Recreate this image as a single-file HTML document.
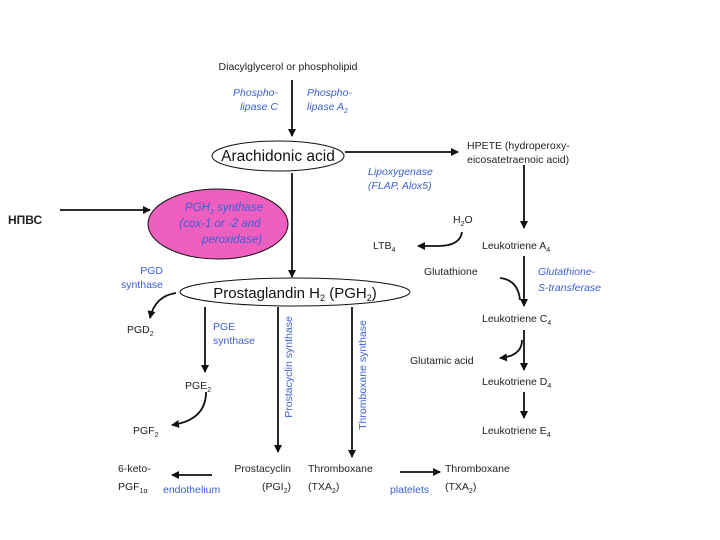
<!DOCTYPE html>
<html><head><meta charset="utf-8"><style>
html,body{margin:0;padding:0;background:#fff;}
svg{display:block;font-family:"Liberation Sans",sans-serif;}
.t{font-size:10.5px;fill:#222;}
.b{font-size:10.5px;fill:#3b5fd6;font-style:italic;}
.bn{font-size:10.5px;fill:#3b5fd6;}
</style></head><body>
<svg width="720" height="540" viewBox="0 0 720 540" xmlns="http://www.w3.org/2000/svg">
<defs><marker id="a" markerWidth="8" markerHeight="8" refX="7" refY="4" orient="auto" markerUnits="userSpaceOnUse"><path d="M0,0 L8,4 L0,8 Z" fill="#111"/></marker></defs>
<g stroke="#111" stroke-width="1.8" fill="none">
<line x1="292" y1="80" x2="292" y2="136" marker-end="url(#a)"/>
<line x1="345" y1="152" x2="458" y2="152" marker-end="url(#a)"/>
<line x1="292" y1="173" x2="292" y2="277" marker-end="url(#a)"/>
<line x1="60" y1="210" x2="150" y2="210" marker-end="url(#a)"/>
<line x1="524" y1="165" x2="524" y2="228" marker-end="url(#a)"/>
<path d="M462,232 Q460,246 438,246 L418,246" marker-end="url(#a)"/>
<line x1="524" y1="256" x2="524" y2="306" marker-end="url(#a)"/>
<path d="M500,278 Q518,280 520,300"/>
<line x1="524" y1="330" x2="524" y2="370" marker-end="url(#a)"/>
<path d="M522,340 Q522,356 500,358" marker-end="url(#a)"/>
<line x1="524" y1="392" x2="524" y2="418" marker-end="url(#a)"/>
<path d="M176,293 Q155,296 150,318" marker-end="url(#a)"/>
<line x1="205" y1="307" x2="205" y2="372" marker-end="url(#a)"/>
<path d="M206,392 Q206,420 172,425" marker-end="url(#a)"/>
<line x1="278" y1="307" x2="278" y2="452" marker-end="url(#a)"/>
<line x1="352" y1="307" x2="352" y2="457" marker-end="url(#a)"/>
<line x1="212" y1="475" x2="172" y2="475" marker-end="url(#a)"/>
<line x1="400" y1="472" x2="440" y2="472" marker-end="url(#a)"/>
</g>
<ellipse cx="278" cy="156" rx="66" ry="15" fill="#fff" stroke="#111" stroke-width="1"/>
<ellipse cx="295" cy="292" rx="115" ry="14" fill="#fff" stroke="#111" stroke-width="1"/>
<ellipse cx="218" cy="224" rx="70" ry="35" fill="#ee5fc0" stroke="#111" stroke-width="1"/>
<text x="288" y="70" class="t" text-anchor="middle">Diacylglycerol or phospholipid</text>
<text x="278" y="161" font-size="15.5" fill="#111" text-anchor="middle">Arachidonic acid</text>
<text x="295" y="298" font-size="15" fill="#111" text-anchor="middle">Prostaglandin H<tspan font-size="9" dy="3">2</tspan><tspan dy="-3"> (PGH</tspan><tspan font-size="9" dy="3">2</tspan><tspan dy="-3">)</tspan></text>
<text class="b" text-anchor="end"><tspan x="278" y="96">Phospho-</tspan><tspan x="278" y="110">lipase C</tspan></text>
<text class="b"><tspan x="307" y="96">Phospho-</tspan><tspan x="307" y="110">lipase A<tspan font-size="7" dy="3">2</tspan></tspan></text>
<text class="t"><tspan x="467" y="149">HPETE (hydroperoxy-</tspan><tspan x="467" y="163">eicosatetraenoic acid)</tspan></text>
<text class="b"><tspan x="368" y="175">Lipoxygenase</tspan><tspan x="368" y="189">(FLAP, Alox5)</tspan></text>
<text class="b" text-anchor="middle" font-size="11.5" style="font-size:11.5px"><tspan x="224" y="211">PGH<tspan font-size="7" dy="3">2</tspan><tspan dy="-3"> synthase</tspan></tspan><tspan x="220" y="227">(cox-1 or -2 and</tspan><tspan x="232" y="243">peroxidase)</tspan></text>
<text x="8" y="224" font-size="12" font-weight="bold" fill="#222">НПВС</text>
<text x="453" y="223" class="t">H<tspan font-size="7" dy="3">2</tspan><tspan dy="-3">O</tspan></text>
<text x="373" y="249" class="t">LTB<tspan font-size="7" dy="3">4</tspan></text>
<text x="482" y="249" class="t">Leukotriene A<tspan font-size="7" dy="3">4</tspan></text>
<text x="424" y="275" class="t">Glutathione</text>
<text class="b"><tspan x="538" y="275">Glutathione-</tspan><tspan x="538" y="291">S-transferase</tspan></text>
<text x="482" y="322" class="t">Leukotriene C<tspan font-size="7" dy="3">4</tspan></text>
<text x="410" y="364" class="t">Glutamic acid</text>
<text x="482" y="385" class="t">Leukotriene D<tspan font-size="7" dy="3">4</tspan></text>
<text x="482" y="434" class="t">Leukotriene E<tspan font-size="7" dy="3">4</tspan></text>
<text class="bn" text-anchor="end"><tspan x="163" y="274">PGD</tspan><tspan x="163" y="288">synthase</tspan></text>
<text x="127" y="333" class="t">PGD<tspan font-size="7" dy="3">2</tspan></text>
<text class="bn"><tspan x="213" y="330">PGE</tspan><tspan x="213" y="344">synthase</tspan></text>
<text x="185" y="389" class="t">PGE<tspan font-size="7" dy="3">2</tspan></text>
<text x="133" y="434" class="t">PGF<tspan font-size="7" dy="3">2</tspan></text>
<text class="bn" transform="translate(292,367) rotate(-90)" text-anchor="middle">Prostacyclin synthase</text>
<text class="bn" transform="translate(366,375) rotate(-90)" text-anchor="middle">Thromboxane synthase</text>
<text class="t"><tspan x="118" y="472">6-keto-</tspan><tspan x="118" y="490">PGF<tspan font-size="7" dy="3">1α</tspan></tspan></text>
<text x="163" y="493" class="bn">endothelium</text>
<text class="t" text-anchor="end"><tspan x="291" y="472">Prostacyclin</tspan><tspan x="291" y="490">(PGI<tspan font-size="7" dy="3">2</tspan><tspan dy="-3">)</tspan></tspan></text>
<text class="t"><tspan x="308" y="472">Thromboxane</tspan><tspan x="308" y="490">(TXA<tspan font-size="7" dy="3">2</tspan><tspan dy="-3">)</tspan></tspan></text>
<text x="390" y="493" class="bn">platelets</text>
<text class="t"><tspan x="445" y="472">Thromboxane</tspan><tspan x="445" y="490">(TXA<tspan font-size="7" dy="3">2</tspan><tspan dy="-3">)</tspan></tspan></text>
</svg>
</body></html>
